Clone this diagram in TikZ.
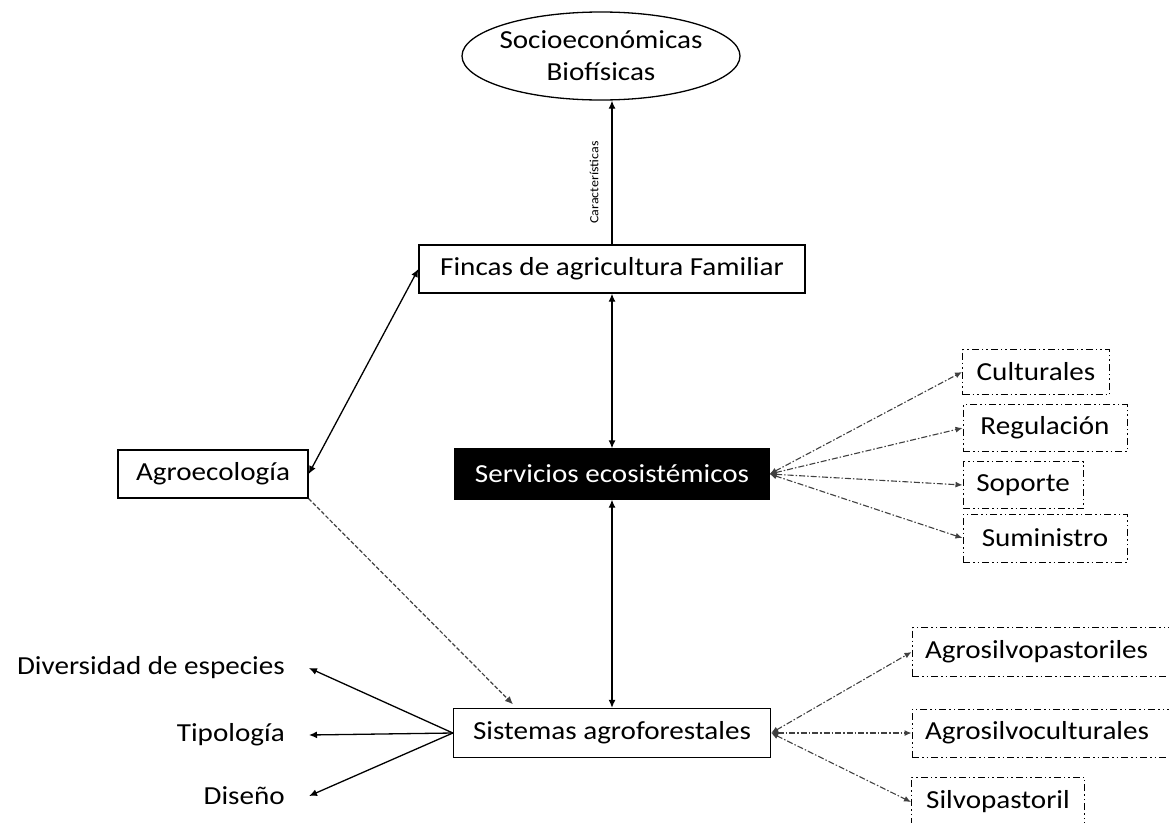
\documentclass[tikz,border=0pt]{standalone}
\usepackage{fontspec}
\setmainfont{Carlito}[FakeStretch=1.12]
\usepackage{tikz}
\usetikzlibrary{shapes.geometric, arrows.meta, positioning, calc}
\tikzstyle{box} = [draw, rectangle, line width=1.3pt, minimum height=48pt, inner sep=0pt]
\tikzstyle{darkbox} = [box, fill=black, text=white]
\tikzstyle{dotbox} = [draw, rectangle, line width=1pt, minimum height=47pt, inner sep=0pt, dash pattern=on 7pt off 3pt on 1.5pt off 3pt on 1.5pt off 3pt]
\tikzstyle{arrow} = [line width=1.3pt, <->, >={Latex[length=8pt,width=7pt]}]
\tikzstyle{onearrow} = [line width=1.3pt, ->, >={Latex[length=8pt,width=7pt]}]
\tikzstyle{dasharrow} = [line width=1.2pt, ->, >={Latex[length=8pt,width=7pt]}, draw=black!75, dash pattern=on 4pt off 2pt]
\tikzstyle{dotarrow} = [line width=1.1pt, <->, >={Latex[length=7pt,width=6pt]}, draw=black!75, dash pattern=on 6pt off 2pt on 1.5pt off 2pt]

\begin{document}
\begin{tikzpicture}[x=1pt, y=-1pt, font=\fontsize{26}{32}\selectfont]
    \useasboundingbox (0,0) rectangle (1169,822);
    \clip (0,0) rectangle (1169,822);

    % Centre column
    \node[draw, ellipse, line width=1.3pt, inner xsep=-6pt, inner ysep=0pt, minimum width=278pt, minimum height=88pt, align=center] (socio) at (601,56) {Socioeconómicas\\Biofísicas};
    \node[box, minimum width=386pt] (fincas) at (612,269) {Fincas de agricultura Familiar};
    \node[darkbox, minimum width=314pt, minimum height=50pt] (serv) at (612,474) {Servicios ecosistémicos};
    \node[box, minimum width=317pt, minimum height=49pt] (sist) at (612,733) {Sistemas agroforestales};
    \node[box, minimum width=190pt] (agro) at (213,474) {Agroecología};

    % Left labels
    \node[anchor=east, inner xsep=24pt, inner ysep=0pt] (diver) at (309,668) {Diversidad de especies};
    \node[anchor=east, inner xsep=24pt, inner ysep=0pt] (tipo) at (309,735) {Tipología};
    \node[anchor=east, inner xsep=24pt, inner ysep=0pt] (dise) at (309,796) {Diseño};

    % Services
    \node[dotbox, minimum width=147pt, minimum height=45pt] (cult) at (1036,372) {Culturales};
    \node[dotbox, minimum width=164pt] (regu) at (1045,428) {Regulación};
    \node[dotbox, minimum width=120pt] (sopo) at (1023,485) {Soporte};
    \node[dotbox, minimum width=164pt, minimum height=48pt] (sumi) at (1045,538) {Suministro};

    % Agroforestry types
    \node[dotbox, text width=252pt, align=left, inner xsep=13pt, minimum height=49pt] (agsp) at (1051,652) {Agrosilvopastoriles};
    \node[dotbox, text width=252pt, align=left, inner xsep=13pt, minimum height=48pt] (agsc) at (1051,733) {Agrosilvoculturales};
    \node[dotbox, minimum width=173pt, minimum height=50pt] (silv) at (998,802) {Silvopastoril};

    % Connectors
    \draw[onearrow] (fincas.north) -- (fincas.north |- socio.south)
        node[pos=0.43, rotate=90, anchor=south, inner xsep=0pt, inner ysep=13pt, font=\fontsize{12.5}{14}\selectfont] {Características};
    \draw[arrow] (fincas.south) -- (serv.north);
    \draw[arrow] (serv.south) -- (sist.north);
    \draw[arrow] (agro.east) -- (fincas.west);
    \draw[dasharrow, shorten >=5pt] (agro.south east) -- ($(sist.north west)!0.2!(sist.north east)$);

    \draw[onearrow] (sist.west) -- (diver.east);
    \draw[onearrow] (sist.west) -- (tipo.east);
    \draw[onearrow] (sist.west) -- (dise.east);

    \foreach \s in {cult, regu, sopo, sumi}
        \draw[dotarrow] (serv.east) -- (\s.west);
    \foreach \s in {agsp, agsc, silv}
        \draw[dotarrow] (sist.east) -- (\s.west);
\end{tikzpicture}
\end{document}
